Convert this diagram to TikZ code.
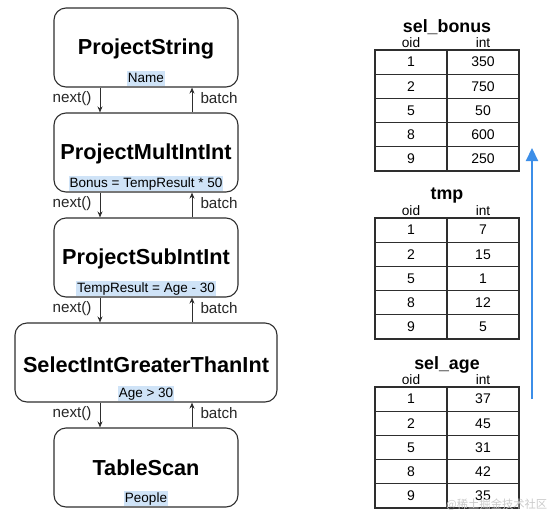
\documentclass[tikz,border=0pt]{standalone}
\usepackage{fontspec}
\setmainfont{Liberation Sans}
\newfontfamily\cjk{Noto Sans CJK SC}
\usetikzlibrary{arrows.meta}
\definecolor{edgec}{HTML}{2E2E2E}
\definecolor{hlc}{HTML}{CFE3F7}
\definecolor{flowblue}{HTML}{3C8EE8}
\definecolor{wmark}{HTML}{C9C9C9}
\begin{document}
\begin{tikzpicture}[x=1pt,y=-1pt,
  opbox/.style={draw=edgec, line width=1.1pt, rounded corners=12pt, minimum height=79pt, inner sep=0pt},
  ttl/.style={font=\fontsize{21.7}{24}\selectfont\bfseries, inner sep=0pt},
  hlabel/.style={fill=hlc, font=\fontsize{13.5}{15}\selectfont, inner sep=1pt, text height=9.7pt, text depth=2.6pt},
  flow/.style={draw=edgec, line width=1pt, -{Stealth[length=6pt,width=5pt]}},
  alabel/.style={font=\fontsize{15.2}{17}\selectfont, inner sep=0pt, text=black!85},
  cell/.style={draw=edgec, line width=1.1pt, minimum width=72pt, minimum height=24.2pt, inner sep=0pt, font=\fontsize{14}{16}\selectfont},
  thead/.style={font=\fontsize{13.7}{15}\selectfont, inner sep=0pt},
  ttitle/.style={font=\fontsize{17.8}{20}\selectfont\bfseries, inner sep=0pt},
  bluearrow/.style={draw=flowblue, line width=2.2pt, -{Triangle[length=13pt,width=12pt]}}
]
\useasboundingbox (0,0) rectangle (552,515);

% operator boxes
\node[opbox, minimum width=184pt] (ps) at (146,47.5) {};
\node[ttl] (pst) at (146,49) {ProjectString};
\node[hlabel] (psl) at (146,78.5) {Name};

\node[opbox, minimum width=184pt] (pm) at (146,152.5) {};
\node[ttl] (pmt) at (146,154) {ProjectMultIntInt};
\node[hlabel] (pml) at (146,183.5) {Bonus = TempResult * 50};

\node[opbox, minimum width=184pt] (pb) at (146,257.5) {};
\node[ttl] (pbt) at (146,259) {ProjectSubIntInt};
\node[hlabel] (pbl) at (146,288.5) {TempResult = Age - 30};

\node[opbox, minimum width=262pt] (sg) at (146,362.5) {};
\node[ttl] (sgt) at (146,365) {SelectIntGreaterThanInt};
\node[hlabel] (sgl) at (146,393.5) {Age > 30};

\node[opbox, minimum width=184pt] (ts) at (146,467.5) {};
\node[ttl] (tst) at (146,468) {TableScan};
\node[hlabel] (tsl) at (146,498.5) {People};

\coordinate (nx) at (100,0);
\coordinate (bx) at (192,0);

\foreach \up/\dn in {ps/pm, pm/pb, pb/sg, sg/ts}{
  \draw[flow] (\up.south -| nx) -- (\dn.north -| nx)
     node[alabel, pos=0.5, anchor=east, xshift=-8pt, yshift=1.5pt] {next()};
  \draw[flow] (\dn.north -| bx) -- (\up.south -| bx)
     node[alabel, pos=0.5, anchor=west, xshift=8pt, yshift=1.5pt] {batch};
}

% tables
\foreach \tn/\tt/\tl/\va/\vb/\vc/\vd/\ve in {bonus/50/sel\_bonus/350/750/50/600/250, tmp/218/tmp/7/15/1/12/5, age/387/sel\_age/37/45/31/42/35}{
  \node[ttitle] (\tn-title) at (447,\tt-22.5) {\tl};
  \node[thead] (\tn-hoid) at (411,\tt-7.5) {oid};
  \node[thead] (\tn-hint) at (483,\tt-7.5) {int};
  \foreach \o/\v [count=\i] in {1/\va, 2/\vb, 5/\vc, 8/\vd, 9/\ve}{
    \node[cell] (\tn-o\i) at (411,{\tt+(\i-0.5)*24.2}) {\o};
    \node[cell] (\tn-v\i) at (483,{\tt+(\i-0.5)*24.2}) {\v};
  }
}

% blue flow arrow
\coordinate (ba) at (532,399);
\coordinate (bb) at (532,148);
\draw[bluearrow] (ba) -- (bb);

% watermark
\node[anchor=west, inner sep=0pt, text=wmark, font=\cjk\fontsize{11.3}{13}\selectfont] (wm) at (446,505) {@稀土掘金技术社区};
\end{tikzpicture}
\end{document}
